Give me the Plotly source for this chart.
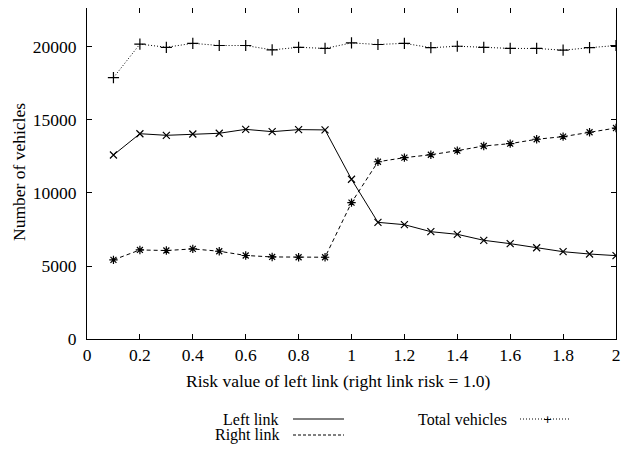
import plotly.graph_objects as go

# risk value of the left link
risk = [0.1, 0.2, 0.3, 0.4, 0.5, 0.6, 0.7, 0.8, 0.9, 1.0,
        1.1, 1.2, 1.3, 1.4, 1.5, 1.6, 1.7, 1.8, 1.9, 2.0]

left_link = [12600, 14060, 13950, 14040, 14090, 14360, 14200, 14340, 14320, 10940,
             7990, 7830, 7350, 7170, 6760, 6530, 6250, 5980, 5820, 5710]
right_link = [5420, 6100, 6060, 6170, 6010, 5720, 5620, 5600, 5600, 9340,
              12140, 12420, 12620, 12900, 13220, 13380, 13680, 13860, 14160, 14450]
total_vehicles = [17900, 20200, 19980, 20250, 20100, 20100, 19800, 19980, 19900, 20280,
                  20170, 20250, 19950, 20050, 19980, 19900, 19900, 19780, 19950, 20100]

x_ticks = [0, 0.2, 0.4, 0.6, 0.8, 1, 1.2, 1.4, 1.6, 1.8, 2]
x_tick_text = ["0", "0.2", "0.4", "0.6", "0.8", "1", "1.2", "1.4", "1.6", "1.8", "2"]
y_ticks = [0, 5000, 10000, 15000, 20000]
y_tick_text = ["0", "5000", "10000", "15000", "20000"]

FONT = "Liberation Serif"
FS = 17.5

fig = go.Figure()

fig.add_trace(go.Scatter(
    x=risk, y=left_link, name="Left link", mode="lines+markers",
    line=dict(color="black", width=1),
    marker=dict(symbol="x-thin-open", size=7, color="black", line=dict(width=1.2, color="black")),
))
fig.add_trace(go.Scatter(
    x=risk, y=right_link, name="Right link", mode="lines+markers",
    line=dict(color="black", width=1, dash="4px,3px"),
    marker=dict(symbol="asterisk-open", size=7, color="black", line=dict(width=1.2, color="black")),
))
fig.add_trace(go.Scatter(
    x=risk, y=total_vehicles, name="Total vehicles", mode="lines+markers",
    line=dict(color="black", width=1, dash="1px,2px"),
    marker=dict(symbol="cross-thin-open", size=8, color="black", line=dict(width=1.2, color="black")),
))

axis_common = dict(
    showline=True, linecolor="black", linewidth=1, mirror="allticks",
    ticks="inside", ticklen=5, tickcolor="black", tickwidth=1,
    showgrid=False, zeroline=False, automargin=False,
    ticklabeloverflow="allow",
    tickfont=dict(family=FONT, size=FS, color="black"),
)

fig.update_xaxes(range=[0, 2], tickvals=x_ticks, ticktext=x_tick_text, **axis_common)
fig.update_yaxes(range=[0, 22670], tickvals=y_ticks, ticktext=y_tick_text,
                 ticklabelstandoff=6, **axis_common)

# the page has an 8px body margin, so positions below are window pixels
# mapped onto the plot area (left 87, right 616, top 8, bottom 339)
def px_x(p):
    return (p - 87) / 529.0

def px_y(p):
    return (339 - p) / 331.0

# axis titles (gnuplot centres the x label on the canvas, not the plot)
fig.add_annotation(x=px_x(338), y=px_y(381), xref="paper", yref="paper",
                   text="Risk value of left link (right link risk = 1.0)",
                   showarrow=False, xanchor="center", yanchor="middle",
                   font=dict(family=FONT, size=FS, color="black"))
fig.add_annotation(x=px_x(19), y=px_y(172), xref="paper", yref="paper",
                   text="Number of vehicles", textangle=-90,
                   showarrow=False, xanchor="center", yanchor="middle",
                   font=dict(family=FONT, size=FS, color="black"))

# gnuplot style key below the plot: text first, then line sample
key = [
    ("Left link", 281, 419, 293, 344, "solid"),
    ("Right link", 281, 435, 293, 344, "3px,2px"),
    ("Total vehicles", 509, 419, 520, 570, "1px,2px"),
]
for label, tx, ty, x0, x1, dash in key:
    fig.add_annotation(x=px_x(tx), y=px_y(ty), xref="paper", yref="paper",
                       text=label, showarrow=False, xanchor="right", yanchor="middle",
                       font=dict(family=FONT, size=16, color="black"))
    fig.add_shape(type="line", xref="paper", yref="paper",
                  x0=px_x(x0), x1=px_x(x1), y0=px_y(ty), y1=px_y(ty),
                  line=dict(color="black", width=1, dash=dash))
fig.add_annotation(x=px_x(547), y=px_y(419), xref="paper", yref="paper",
                   text="+", showarrow=False, xanchor="center", yanchor="middle",
                   font=dict(family="DejaVu Sans", size=11, color="black"))

fig.update_layout(
    width=614, height=436,
    margin=dict(l=79, r=6, t=0, b=105),
    paper_bgcolor="white", plot_bgcolor="white",
    showlegend=False,
    font=dict(family=FONT, size=FS, color="black"),
)

fig.write_html("out.html")
